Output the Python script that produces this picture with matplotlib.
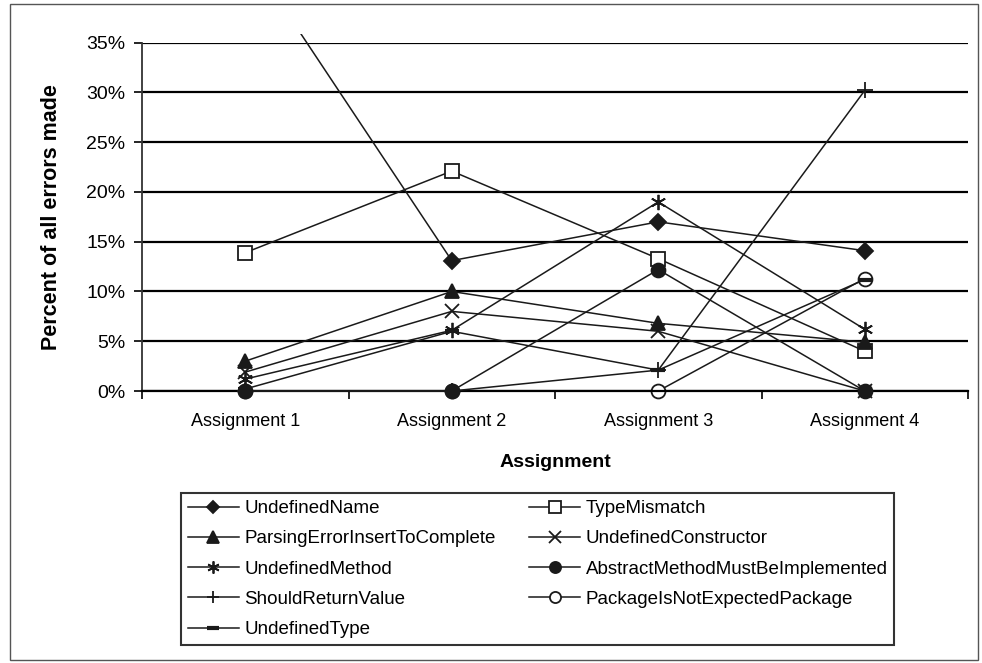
# Error types per assignment - line chart with Excel-like markers
import numpy as np
import matplotlib
matplotlib.use('Agg')
import matplotlib.pyplot as plt
from matplotlib.patches import Rectangle

plt.rcParams['font.family'] = ['Liberation Sans', 'DejaVu Sans']

# Data (percent of all errors made)
assignments = ['Assignment 1', 'Assignment 2', 'Assignment 3', 'Assignment 4']
undefined_name = [44.3, 13.1, 17.0, 14.1]
type_mismatch = [13.9, 22.1, 13.3, 4.0]
parsing_error = [3.0, 10.0, 6.8, 4.9]
undefined_constructor = [1.9, 8.0, 6.0, 0.0]
undefined_method = [1.2, 6.1, 19.0, 6.2]
abstract_method = [0.0, 0.0, 12.2, 0.0]
should_return = [0.0, 0.0, 2.1, 30.2]
package_not_expected = [0.0, 0.0, 0.0, 11.3]
undefined_type = [0.2, 6.0, 2.1, 11.2]
y_ticks = [0, 5, 10, 15, 20, 25, 30, 35]

asterisk = (6, 2, 0)
# name, values, marker style, zorder
series = [
    ('UndefinedName', undefined_name, dict(marker='D', ms=8, mfc='#1a1a1a'), 4),
    ('TypeMismatch', type_mismatch, dict(marker='s', ms=10, mfc='white'), 3),
    ('ParsingErrorInsertToComplete', parsing_error, dict(marker='^', ms=10, mfc='#1a1a1a'), 4),
    ('UndefinedConstructor', undefined_constructor, dict(marker='x', ms=10), 3),
    ('UndefinedMethod', undefined_method, dict(marker=asterisk, ms=11), 3),
    ('AbstractMethodMustBeImplemented', abstract_method, dict(marker='o', ms=10, mfc='#1a1a1a'), 5),
    ('ShouldReturnValue', should_return, dict(marker='+', ms=11), 3),
    ('PackageIsNotExpectedPackage', package_not_expected, dict(marker='o', ms=10, mfc='white'), 2.5),
    ('UndefinedType', undefined_type, dict(marker='_', ms=10, mew=3), 2.6),
]

fig = plt.figure(figsize=(9.82, 6.63), dpi=100)
ax = fig.add_axes([142 / 982, 1 - 391 / 663, 826 / 982, 348.3 / 663])

x = np.arange(len(assignments))
handles = {}
for name, vals, style, z in series:
    kw = dict(color='#1a1a1a', lw=1.1, mec='#1a1a1a', mew=style.pop('mew', 1.3))
    kw.update(style)
    line, = ax.plot(x, vals, zorder=z, **kw)
    # let markers at 0% show fully, but cut lines a little above 35%
    line.set_clip_box(None)
    line.set_clip_path(Rectangle((-0.7, -3), 4.4, 38.9, transform=ax.transData))
    line.set_clip_on(True)
    handles[name] = line

ax.set_xlim(-0.5, 3.5)
ax.set_ylim(0, 35)
ax.set_yticks(y_ticks)
ax.set_yticklabels([f'{v}%' for v in y_ticks])
ax.yaxis.grid(True, color='black', lw=1.6)
ax.set_axisbelow(True)

ax.set_xticks([-0.5, 0.5, 1.5, 2.5, 3.5])
ax.set_xticklabels([])
ax.set_xticks(x, minor=True)
ax.set_xticklabels(assignments, minor=True)
ax.tick_params(axis='x', which='minor', length=0, pad=16, labelsize=13)
ax.tick_params(axis='x', which='major', length=6, width=1.2, direction='out')
ax.tick_params(axis='y', length=6, width=1.2, pad=6, labelsize=14)

for s in ['top', 'right']:
    ax.spines[s].set_visible(False)
ax.spines['left'].set_color('#333333')
ax.spines['left'].set_linewidth(1.3)
ax.spines['bottom'].set_color('black')
ax.spines['bottom'].set_linewidth(1.6)

ax.set_xlabel('Assignment', fontsize=14, fontweight='bold')
ax.xaxis.set_label_coords(0.5, -0.18)
ax.set_ylabel('Percent of all errors made', fontsize=15.5, fontweight='bold')
ax.yaxis.set_label_coords(-0.097, 0.5)

# legend fills column-first, so order entries to read row by row
order = ['UndefinedName', 'ParsingErrorInsertToComplete', 'UndefinedMethod',
         'ShouldReturnValue', 'UndefinedType', 'TypeMismatch',
         'UndefinedConstructor', 'AbstractMethodMustBeImplemented',
         'PackageIsNotExpectedPackage']
leg = fig.legend([handles[n] for n in order], order, ncol=2,
                 loc='upper left', bbox_to_anchor=(172 / 982, 1 - 484 / 663),
                 fontsize=13.5, frameon=True, fancybox=False, handlelength=2.7,
                 handletextpad=0.3, columnspacing=1.8, labelspacing=0.7,
                 borderpad=0.35, markerscale=0.8)
leg.get_frame().set_edgecolor('black')
leg.get_frame().set_linewidth(1.5)

# outer chart border
fig.patches.append(Rectangle((10 / 982, 3 / 663), 968 / 982, 656 / 663,
                             transform=fig.transFigure, fill=False,
                             ec='#555555', lw=1.0))

fig.savefig('out.png', dpi=100)
